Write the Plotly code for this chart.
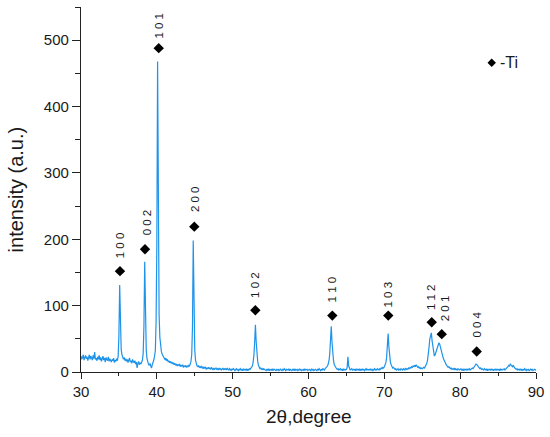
import numpy as np
import plotly.graph_objects as go

# XRD pattern, one row per degree (2theta = 30.0 ... 90.0, step 0.1)
intensity = [
    24, 19, 22, 26, 18, 21, 25, 20, 23, 17,   # 30
    22, 26, 19, 24, 21, 18, 25, 20, 30, 19,   # 31
    21, 17, 23, 19, 25, 18, 22, 16, 20, 24,   # 32
    18, 21, 15, 22, 19, 17, 23, 16, 20, 18,   # 33
    15, 19, 17, 21, 14, 18, 16, 20, 17, 24,   # 34
    55, 131, 62, 34, 26, 21, 19, 22, 17, 20,  # 35
    16, 19, 14, 18, 21, 15, 17, 13, 19, 16,   # 36
    14, 17, 12, 15, 6, 13, 16, 11, 14, 12,    # 37
    15, 18, 28, 70, 166, 80, 34, 20, 14, 12,  # 38
    10, 13, 9, 6, 11, 14, 18, 24, 32, 75,     # 39
    190, 468, 210, 85, 52, 38, 31, 27, 24, 22,  # 40
    20, 18, 21, 17, 19, 15, 17, 14, 16, 13,   # 41
    15, 12, 14, 11, 13, 10, 12, 9, 11, 10,    # 42
    12, 8, 10, 9, 11, 7, 9, 8, 10, 7,         # 43
    9, 8, 10, 9, 12, 16, 26, 68, 198, 76,     # 44
    34, 18, 12, 9, 8, 10, 7, 8, 6, 9,         # 45
    7, 5, 8, 6, 7, 4, 6, 5, 7, 5,             # 46
    6, 4, 7, 5, 3, 6, 4, 5, 6, 4,             # 47
    5, 3, 6, 4, 5, 3, 4, 6, 3, 5,             # 48
    4, 5, 3, 6, 4, 3, 5, 4, 2, 5,             # 49
    3, 5, 4, 2, 4, 5, 3, 4, 2, 4,             # 50
    5, 3, 4, 2, 5, 3, 4, 3, 5, 2,             # 51
    4, 3, 5, 4, 6, 7, 9, 15, 25, 45,          # 52
    71, 46, 27, 16, 10, 8, 5, 6, 4, 5,        # 53
    3, 5, 4, 3, 2, 4, 3, 5, 2, 4,             # 54
    3, 4, 2, 5, 3, 4, 3, 2, 4, 3,             # 55
    4, 2, 3, 5, 3, 2, 4, 3, 5, 3,             # 56
    2, 4, 3, 3, 5, 2, 4, 3, 2, 4,             # 57
    3, 5, 2, 4, 3, 4, 2, 3, 5, 3,             # 58
    4, 2, 3, 4, 2, 5, 3, 3, 4, 2,             # 59
    3, 4, 3, 2, 5, 3, 4, 2, 3, 4,             # 60
    3, 2, 4, 3, 5, 3, 2, 4, 3, 5,             # 61
    4, 3, 5, 6, 7, 9, 12, 17, 27, 46,         # 62
    69, 45, 27, 17, 11, 8, 6, 5, 4, 5,        # 63
    3, 4, 5, 3, 4, 2, 5, 3, 4, 3,             # 64
    4, 7, 23, 9, 5, 3, 4, 5, 3, 4,            # 65
    3, 4, 2, 5, 3, 4, 3, 5, 2, 4,             # 66
    3, 5, 3, 4, 2, 4, 5, 3, 4, 3,             # 67
    4, 3, 5, 3, 4, 2, 4, 5, 3, 4,             # 68
    3, 5, 4, 3, 5, 4, 6, 5, 7, 6,             # 69
    8, 10, 14, 22, 40, 58, 38, 24, 15, 11,    # 70
    8, 6, 7, 5, 4, 5, 3, 4, 5, 3,             # 71
    4, 3, 5, 4, 3, 5, 4, 3, 6, 4,             # 72
    5, 4, 6, 5, 7, 6, 8, 7, 9, 8,             # 73
    10, 8, 11, 9, 7, 8, 6, 7, 5, 6,           # 74
    5, 6, 7, 6, 8, 10, 13, 18, 26, 38,        # 75
    50, 57, 59, 47, 36, 28, 24, 26, 30, 36,   # 76
    40, 43, 44, 42, 36, 30, 28, 24, 20, 17,   # 77
    15, 12, 10, 9, 7, 8, 6, 5, 6, 4,          # 78
    5, 4, 6, 3, 5, 4, 3, 5, 4, 3,             # 79
    4, 5, 3, 4, 2, 5, 3, 4, 3, 5,             # 80
    3, 4, 5, 3, 4, 5, 6, 5, 7, 8,             # 81
    10, 12, 11, 9, 8, 6, 5, 6, 4, 5,          # 82
    4, 3, 5, 4, 3, 5, 2, 4, 3, 4,             # 83
    3, 5, 3, 4, 2, 4, 3, 5, 3, 4,             # 84
    3, 4, 2, 5, 3, 4, 3, 4, 5, 3,             # 85
    4, 5, 6, 8, 10, 9, 12, 11, 9, 8,          # 86
    10, 7, 6, 5, 4, 5, 3, 4, 3, 5,            # 87
    3, 4, 2, 4, 3, 5, 3, 2, 4, 3,             # 88
    4, 2, 3, 5, 3, 4, 2, 3, 4, 3,             # 89
    4,                                        # 90
]
two_theta = np.round(30 + 0.1 * np.arange(len(intensity)), 1)

# Ti reflections: diamond marker positions and hkl labels
peak_x = [35.14, 38.44, 40.25, 44.94, 52.99, 63.14, 70.52, 76.25, 77.57, 82.18]
peak_y = [152, 185, 488, 219, 93, 85, 85, 75, 57, 31]
hkl = ["1 0 0", "0 0 2", "1 0 1", "2 0 0", "1 0 2", "1 1 0", "1 0 3", "1 1 2", "2 0 1", "0 0 4"]
label_x = [35.14, 38.66, 40.29, 44.94, 53.01, 63.10, 70.55, 76.25, 78.0, 82.18]
label_y = [191, 225, 522, 261, 132, 124.5, 116, 112.5, 96, 71]

font = "Liberation Sans, Arial, sans-serif"
ink = "#1a1a1a"

fig = go.Figure()
fig.add_trace(go.Scatter(x=two_theta, y=intensity, mode="lines",
                         line=dict(color="#1e93ea", width=1.2), showlegend=False))
fig.add_trace(go.Scatter(x=peak_x, y=peak_y, mode="markers",
                         marker=dict(symbol="diamond", size=8, color="black"),
                         showlegend=False))
# "legend" marker
fig.add_trace(go.Scatter(x=[84.16], y=[466], mode="markers",
                         marker=dict(symbol="diamond", size=6.5, color="black"),
                         showlegend=False))

for lx, ly, t in zip(label_x, label_y, hkl):
    fig.add_annotation(x=lx, y=ly, text=t, showarrow=False, textangle=-90,
                       xanchor="center", yanchor="middle",
                       font=dict(family=font, size=11.5, color=ink))

fig.add_annotation(x=85.0, y=466, text="-Ti", showarrow=False,
                   xanchor="left", yanchor="middle",
                   font=dict(family=font, size=16, color=ink))

# axis titles
fig.add_annotation(x=0.5, y=-0.1225, xref="paper", yref="paper", text="2θ,degree",
                   showarrow=False, xanchor="center", yanchor="middle",
                   font=dict(family=font, size=19, color=ink))
fig.add_annotation(x=-0.143, y=0.5, xref="paper", yref="paper", text="intensity (a.u.)",
                   showarrow=False, textangle=-90, xanchor="center", yanchor="middle",
                   font=dict(family=font, size=20, color=ink))

axis_common = dict(showgrid=False, zeroline=False, showline=True, linecolor="#222",
                   linewidth=1.3, ticks="outside", tickcolor="#222", tickwidth=1.3,
                   tickfont=dict(family=font, size=15, color=ink))
fig.update_xaxes(range=[30, 90], dtick=10, ticklen=6,
                 minor=dict(dtick=5, ticks="outside", ticklen=3, tickcolor="#222", tickwidth=1.3),
                 **axis_common)
fig.update_yaxes(range=[0, 550], tickvals=[0, 100, 200, 300, 400, 500], ticklen=8,
                 minor=dict(tickvals=[50, 150, 250, 350, 450, 550], ticks="outside",
                            ticklen=5, tickcolor="#222", tickwidth=1.3),
                 **axis_common)

fig.update_layout(width=550, height=437, margin=dict(l=81, r=14, t=7, b=65),
                  plot_bgcolor="white", paper_bgcolor="white")

# page body has a default 8px margin; drop it so the figure sits at the window corner
fig.write_html("out.html", config={"displayModeBar": False},
               post_script="document.body.style.margin='0';")
